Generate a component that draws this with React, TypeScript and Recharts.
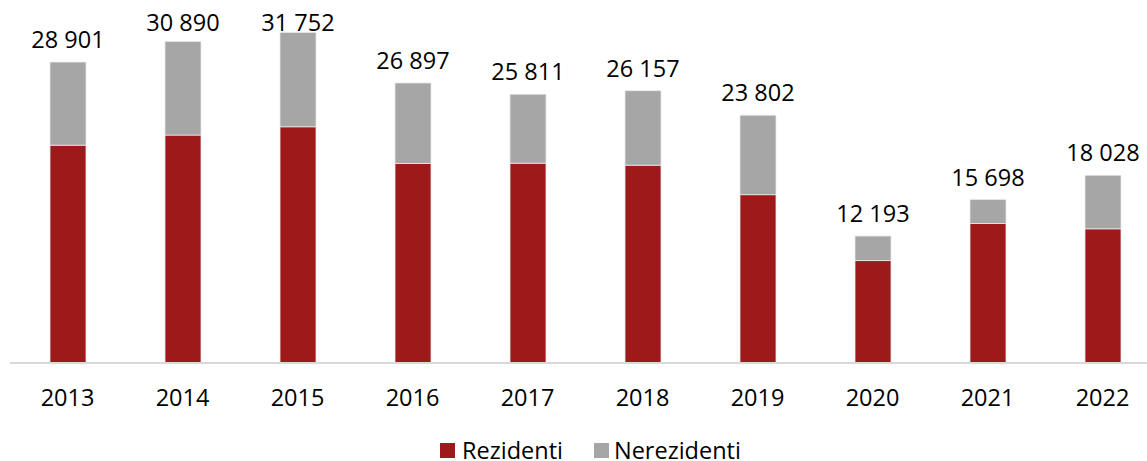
import { BarChart, Bar, XAxis, YAxis, Legend, LabelList } from 'recharts';

const years = ['2013', '2014', '2015', '2016', '2017', '2018', '2019', '2020', '2021', '2022'];
const totals = [28901, 30890, 31752, 26897, 25811, 26157, 23802, 12193, 15698, 18028];
const rezidenti = [20920, 21890, 22690, 19160, 19190, 19000, 16170, 9840, 13400, 12890];

const RED = '#9E1A1A';
const GRAY = '#A6A6A6';
const FONT = '"Open Sans", sans-serif';
const FS = 23.5;

const data = years.map((y, i) => ({
  year: y,
  rez: rezidenti[i],
  nerez: totals[i] - rezidenti[i],
  total: totals[i],
}));

const fmt = (v: number) => v.toLocaleString('en-US').replace(/,/g, ' ');

// label over the whole stack, one line; pushed down near the top edge like Excel does
const TotalLabel = (props: any) => {
  const { x = 0, y = 0, width = 0, value } = props;
  const baseline = Math.max(y - 14, 31);
  return (
    <text x={x + width / 2} y={baseline} textAnchor="middle"
      style={{ fill: '#000', fontSize: FS, fontFamily: FONT }}>
      {fmt(Number(value))}
    </text>
  );
};

const LegendBox = () => (
  <div style={{ display: 'flex', alignItems: 'center', fontFamily: FONT, fontSize: FS, lineHeight: 1, color: '#000', paddingLeft: 430, paddingTop: 16 }}>
    <span style={{ width: 15, height: 15, background: RED, display: 'inline-block', marginRight: 7 }} />
    <span style={{ marginRight: 31 }}>Rezidenti</span>
    <span style={{ width: 15, height: 15, background: GRAY, display: 'inline-block', marginRight: 5 }} />
    <span>Nerezidenti</span>
  </div>
);

export default function App() {
  return (
    <div style={{ position: 'fixed', left: 0, top: 0, width: 1147, height: 461, overflow: 'hidden', background: '#fff' }}>
      <BarChart
        width={1170}
        height={461}
        data={data}
        margin={{ top: 9, right: 10, left: 10, bottom: 0 }}
        barSize={36}
      >
        <XAxis
          dataKey="year"
          axisLine={{ stroke: '#D9D9D9', strokeWidth: 2 }}
          tickLine={false}
          tick={{ fill: '#000', fontSize: FS, fontFamily: FONT }}
          tickMargin={20}
          height={60}
        />
        <YAxis hide domain={[0, 34000]} />
        <Legend verticalAlign="bottom" height={38} content={<LegendBox />} />
        <Bar dataKey="rez" stackId="a" fill={RED} stroke="#E8E8E8" strokeWidth={0.8} isAnimationActive={false} />
        <Bar dataKey="nerez" stackId="a" fill={GRAY} stroke="#E8E8E8" strokeWidth={0.8} isAnimationActive={false}>
          <LabelList dataKey="total" content={<TotalLabel />} />
        </Bar>
      </BarChart>
    </div>
  );
}
